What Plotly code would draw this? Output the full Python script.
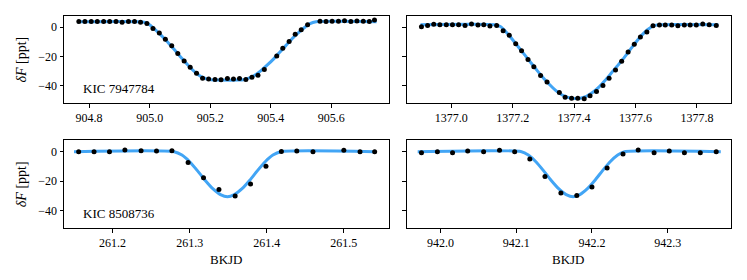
import plotly.graph_objects as go

# ---------------- data ----------------
# KIC 7947784, transit near 905.3
tl_time = [904.766, 904.786, 904.807, 904.827, 904.848, 904.868, 904.889, 904.909, 904.930, 904.950,
           904.970, 904.991, 905.011, 905.032, 905.052, 905.073, 905.093, 905.114, 905.134, 905.155,
           905.175, 905.195, 905.216, 905.236, 905.257, 905.277, 905.297, 905.318, 905.338, 905.358,
           905.379, 905.420, 905.440, 905.461, 905.481, 905.501, 905.522, 905.563, 905.583,
           905.603, 905.624, 905.644, 905.665, 905.685, 905.706, 905.726, 905.743]
tl_flux = [3.9, 4.0, 3.9, 3.9, 3.9, 4.0, 4.0, 3.4, 4.0, 4.0,
           3.5, 2.6, -0.8, -3.9, -8.2, -12.5, -17.8, -23.0, -27.3, -31.4,
           -34.8, -35.3, -35.6, -35.8, -34.9, -35.3, -34.9, -35.5, -34.1, -32.6,
           -28.7, -19.6, -14.3, -9.6, -4.8, -1.6, 1.8, 4.1, 4.0,
           4.1, 4.1, 4.5, 4.0, 4.3, 4.1, 4.0, 5.0]
tl_model_t = [904.76, 904.97, 904.99, 905.01, 905.03, 905.05, 905.07, 905.09, 905.11, 905.13,
              905.15, 905.17, 905.19, 905.21, 905.23, 905.29, 905.31, 905.33, 905.35, 905.37,
              905.39, 905.41, 905.43, 905.45, 905.47, 905.49, 905.51, 905.53, 905.55, 905.75]
tl_model_f = [3.8, 3.8, 3.0, 0.0, -3.8, -8.0, -12.5, -17.2, -22.0, -26.5,
              -30.5, -33.6, -35.3, -35.9, -36.0, -36.0, -35.7, -34.5, -32.3, -29.2,
              -25.5, -21.5, -17.0, -12.5, -8.0, -4.0, -0.5, 2.5, 3.8, 3.8]

# KIC 7947784, transit near 1377.4
tr_time = [1376.903, 1376.923, 1376.943, 1376.963, 1376.984, 1377.004, 1377.024, 1377.045, 1377.066, 1377.087,
           1377.106, 1377.126, 1377.148, 1377.169, 1377.189, 1377.210, 1377.229, 1377.250, 1377.269, 1377.291,
           1377.312, 1377.352, 1377.371, 1377.392, 1377.412, 1377.433, 1377.452, 1377.473, 1377.494,
           1377.514, 1377.535, 1377.555, 1377.576, 1377.596, 1377.616, 1377.637, 1377.657, 1377.678, 1377.697,
           1377.718, 1377.738, 1377.759, 1377.778, 1377.798, 1377.819, 1377.840, 1377.863]
tr_flux = [0.4, 1.3, 2.0, 1.8, 1.8, 1.8, 1.8, 1.3, 2.2, 1.6,
           1.8, 0.9, 1.3, -2.3, -5.5, -11.2, -16.0, -21.9, -26.9, -32.8,
           -37.3, -44.4, -47.6, -48.3, -48.3, -48.7, -46.7, -43.7, -39.6,
           -34.8, -29.1, -23.2, -16.9, -11.6, -6.6, -3.2, 1.1, 1.6, 1.6,
           1.6, 1.1, 1.6, 1.6, 1.6, 2.2, 1.8, 1.3]
tr_model_t = [1376.90, 1377.14, 1377.16, 1377.18, 1377.20, 1377.22, 1377.24, 1377.26, 1377.28, 1377.30,
              1377.32, 1377.34, 1377.36, 1377.38, 1377.40, 1377.42, 1377.44, 1377.46, 1377.48, 1377.50,
              1377.52, 1377.54, 1377.56, 1377.58, 1377.60, 1377.62, 1377.64, 1377.66, 1377.68, 1377.87]
tr_model_f = [1.8, 1.8, 0.5, -3.5, -8.5, -13.8, -19.0, -24.3, -29.5, -34.5,
              -39.0, -43.0, -46.0, -47.8, -48.5, -48.3, -47.0, -44.5, -41.0, -36.5,
              -31.5, -26.5, -21.5, -16.0, -10.5, -5.5, -1.5, 1.2, 1.8, 1.8]

# KIC 8508736, transit near 261.35
bl_time = [261.156, 261.176, 261.196, 261.216, 261.237, 261.257, 261.277, 261.298, 261.318, 261.338,
           261.359, 261.379, 261.399, 261.419, 261.439, 261.460, 261.500, 261.521, 261.540]
bl_flux = [0.0, 0.0, 0.0, 1.1, 0.7, 0.5, 0.7, -7.3, -17.7, -25.5,
           -30.0, -21.8, -9.8, 0.2, 0.5, 0.0, 0.9, 0.0, 0.0]
bl_model_t = [261.15, 261.280, 261.290, 261.300, 261.310, 261.320, 261.330, 261.340, 261.349,
              261.358, 261.368, 261.378, 261.388, 261.398, 261.408, 261.418, 261.54]
bl_model_f = [0.0, 0.0, -2.3, -6.8, -12.8, -19.3, -25.0, -29.0, -30.5,
              -29.0, -25.0, -19.3, -12.8, -6.8, -2.3, 0.0, 0.0]

# KIC 8508736, transit near 942.18
br_time = [941.975, 941.996, 942.016, 942.036, 942.057, 942.078, 942.098, 942.118, 942.138, 942.159,
           942.180, 942.200, 942.220, 942.241, 942.261, 942.282, 942.302, 942.322, 942.343, 942.364]
br_flux = [-0.7, 0.0, -0.7, 0.5, 0.0, 0.9, 0.0, -5.0, -16.8, -28.0,
           -29.6, -23.9, -11.1, -1.6, 1.1, -0.7, 0.5, -0.7, -0.7, 0.0]
br_model_t = [941.97, 942.107, 942.116, 942.126, 942.136, 942.146, 942.156, 942.166, 942.175,
              942.184, 942.194, 942.204, 942.214, 942.224, 942.234, 942.243, 942.37]
br_model_f = [0.0, 0.0, -2.3, -6.8, -12.8, -19.3, -25.0, -29.0, -30.5,
              -29.0, -25.0, -19.3, -12.8, -6.8, -2.3, 0.0, 0.0]

y_ticks = [0, -20, -40]
tl_xticks = [904.8, 905.0, 905.2, 905.4, 905.6]
tr_xticks = [1377.0, 1377.2, 1377.4, 1377.6, 1377.8]
bl_xticks = [261.2, 261.3, 261.4, 261.5]
br_xticks = [942.0, 942.1, 942.2, 942.3]
star_labels = ["KIC 7947784", "KIC 8508736"]
x_title = "BKJD"
y_title = "<i>δF</i> [ppt]"

# ---------------- figure ----------------
W, H = 747, 280
FONT = "Liberation Serif, DejaVu Serif, serif"
BLUE = "#42A5F5"

panels = [
    ("x", "y", tl_time, tl_flux, tl_model_t, tl_model_f, tl_xticks, [904.717, 905.792]),
    ("x2", "y2", tr_time, tr_flux, tr_model_t, tr_model_f, tr_xticks, [1376.855, 1377.911]),
    ("x3", "y3", bl_time, bl_flux, bl_model_t, bl_model_f, bl_xticks, [261.137, 261.559]),
    ("x4", "y4", br_time, br_flux, br_model_t, br_model_f, br_xticks, [941.9555, 942.3835]),
]

xdom = [[64 / W, 389.3 / W], [406.7 / W, 731 / W]]
ydom = [[1 - 103.3 / H, 1 - 15.7 / H], [1 - 228.3 / H, 1 - 140 / H]]

fig = go.Figure()
layout = dict(
    width=W, height=H,
    margin=dict(l=0, r=0, t=0, b=0, autoexpand=False),
    paper_bgcolor="white", plot_bgcolor="white",
    showlegend=False,
    font=dict(family=FONT, size=12, color="black"),
    annotations=[],
)

for i, (xa, ya, t, f, mt, mf, xt, xr) in enumerate(panels):
    fig.add_trace(go.Scatter(x=mt, y=mf, mode="lines", xaxis=xa, yaxis=ya,
                             line=dict(color=BLUE, width=3, shape="spline", smoothing=0.6),
                             hoverinfo="skip"))
    fig.add_trace(go.Scatter(x=t, y=f, mode="markers", xaxis=xa, yaxis=ya,
                             marker=dict(color="black", size=5, line=dict(width=0))))
    row, col = divmod(i, 2)
    xkey = "xaxis" if i == 0 else f"xaxis{i + 1}"
    ykey = "yaxis" if i == 0 else f"yaxis{i + 1}"
    layout[xkey] = dict(
        domain=xdom[col], anchor=ya, range=xr, automargin=False,
        tickmode="array", tickvals=xt, ticktext=[f"{v:.1f}" for v in xt],
        ticks="outside", ticklen=3.5, tickwidth=1, tickcolor="black",
        showline=True, linecolor="black", linewidth=1, mirror=True,
        showgrid=False, zeroline=False,
        tickfont=dict(family=FONT, size=12, color="black"),
    )
    layout[ykey] = dict(
        domain=ydom[row], anchor=xa, range=[-51.8, 7.9], automargin=False,
        tickmode="array", tickvals=y_ticks,
        showticklabels=(col == 0),
        ticks="outside", ticklen=3.5, tickwidth=1, tickcolor="black",
        showline=True, linecolor="black", linewidth=1, mirror=True,
        showgrid=False, zeroline=False,
        tickfont=dict(family=FONT, size=12, color="black"),
    )

ann = layout["annotations"]
for row, lab in enumerate(star_labels):
    yb = ydom[row][0]
    ann.append(dict(text=lab, x=81 / W, y=yb + 5 / H, xref="paper", yref="paper",
                    xanchor="left", yanchor="bottom", showarrow=False,
                    font=dict(family=FONT, size=13, color="black")))
    ann.append(dict(text=y_title, x=21 / W, y=(ydom[row][0] + ydom[row][1]) / 2,
                    xref="paper", yref="paper", xanchor="center", yanchor="middle",
                    textangle=-90, showarrow=False,
                    font=dict(family=FONT, size=14, color="black")))
for col in range(2):
    ann.append(dict(text=x_title, x=(xdom[col][0] + xdom[col][1]) / 2, y=1 - 259 / H,
                    xref="paper", yref="paper", xanchor="center", yanchor="middle",
                    showarrow=False, font=dict(family=FONT, size=13, color="black")))

fig.update_layout(**layout)
fig.write_html("out.html", config={"displayModeBar": False, "staticPlot": True},
               post_script="document.body.style.margin='0';document.body.style.overflow='hidden';")
